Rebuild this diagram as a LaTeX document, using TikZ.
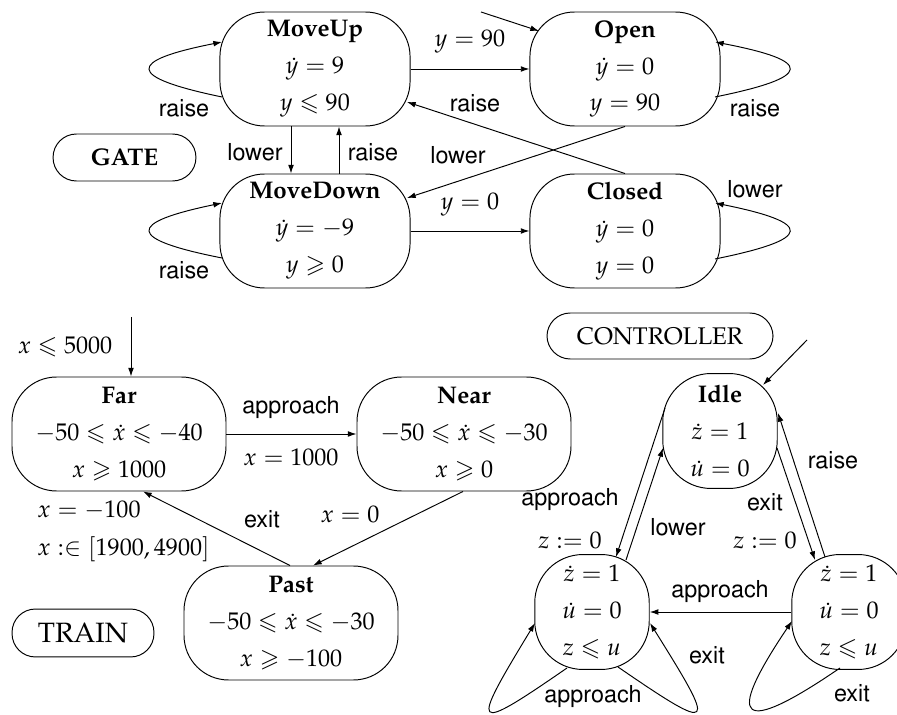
\documentclass[tikz,border=0pt]{standalone}
\usepackage[T1]{fontenc}
\usepackage{mathpazo}
\usepackage{helvet}
\usepackage{amssymb}
\usetikzlibrary{arrows.meta,calc}
\begin{document}
\begin{tikzpicture}[x=0.415pt,y=-0.415pt,
  base/.style={draw, line width=0.4pt, align=center, inner sep=0pt, font=\fontsize{10}{15.3}\selectfont},
  gst/.style={base, rounded corners=18.5pt, minimum width=78.9pt, minimum height=47.3pt},
  tst/.style={base, rounded corners=18.5pt, minimum width=88.8pt, minimum height=47.3pt},
  cst/.style={base, rounded corners=20pt, minimum width=47.5pt, minimum height=47.7pt},
  tag/.style={draw, line width=0.4pt, inner sep=0pt, rounded corners=9.7pt, minimum width=59.3pt, minimum height=19.5pt, font=\fontsize{10}{12}\selectfont},
  lb/.style={inner sep=0pt, font=\fontsize{9.7}{11}\sffamily},
  ml/.style={inner sep=0pt, font=\fontsize{10}{12}\selectfont},
  arr/.style={draw, line width=0.4pt, -{Latex[length=3.6pt,width=2.4pt]}}
]
\useasboundingbox (0,0) rectangle (897,715);

% ---------------- GATE ----------------
\node[gst] (mu) at (315,69) {\textbf{MoveUp}\\$\dot y = 9$\\$y \leqslant 90$};
\node[gst] (op) at (625,69) {\textbf{Open}\\$\dot y = 0$\\$y = 90$};
\node[gst] (md) at (315,231) {\textbf{MoveDown}\\$\dot y = -9$\\$y \geqslant 0$};
\node[gst] (cl) at (625,231) {\textbf{Closed}\\$\dot y = 0$\\$y = 0$};
\node[tag] (gate) at (124.5,157.5) {\textbf{GATE}};

\coordinate (opin) at (481,12);
\draw[arr] (opin) -- ($(op.center)+(-86,-38)$);
\draw[arr] (mu.east) -- (op.west);
\draw[arr] ($(mu.south)+(-24,0)$) -- ($(md.north)+(-24,0)$);
\draw[arr] ($(md.north)+(24,0)$) -- ($(mu.south)+(24,0)$);
\draw[arr] (cl.north) -- ($(mu.center)+(92,33)$);
\draw[arr] (op.south) -- ($(md.center)+(92,-33)$);
\draw[arr] (md.east) -- (cl.west);
% self loops
\draw[arr] ($(op.center)+(90,28)$) .. controls ($(op.center)+(189,8)$) and ($(op.center)+(189,-8)$) .. ($(op.center)+(90,-27)$);
\draw[arr] ($(cl.center)+(90,28)$) .. controls ($(cl.center)+(189,8)$) and ($(cl.center)+(189,-8)$) .. ($(cl.center)+(90,-28)$);
\draw[arr] ($(mu.center)+(-93,28)$) .. controls ($(mu.center)+(-189,8)$) and ($(mu.center)+(-189,-8)$) .. ($(mu.center)+(-93,-27)$);
\draw[arr] ($(md.center)+(-93,27)$) .. controls ($(md.center)+(-189,8)$) and ($(md.center)+(-189,-8)$) .. ($(md.center)+(-93,-28)$);

\node[ml] (g1) at (470,42) {$y = 90$};
\node[lb] (g2) at (755,108) {raise};
\node[lb] (g3) at (184,108) {raise};
\node[lb] (g4) at (255,152) {lower};
\node[lb] (g5) at (373,152) {raise};
\node[lb] (g6) at (475,103) {raise};
\node[lb] (g7) at (458,155) {lower};
\node[ml] (g8) at (470,205) {$y = 0$};
\node[lb] (g9) at (755,189) {lower};
\node[lb] (g10) at (184,270) {raise};

% ---------------- TRAIN ----------------
\node[tst] (fa) at (119,434) {\textbf{Far}\\$-50 \leqslant \dot x \leqslant -40$\\$x \geqslant 1000$};
\node[tst] (ne) at (464,434) {\textbf{Near}\\$-50 \leqslant \dot x \leqslant -30$\\$x \geqslant 0$};
\node[tst] (pa) at (291,623) {\textbf{Past}\\$-50 \leqslant \dot x \leqslant -30$\\$x \geqslant -100$};
\node[tag, minimum width=58.9pt, minimum height=19.9pt, font=\fontsize{11.6}{13}\selectfont] (train) at (83,633) {TRAIN};

\coordinate (fain) at (131,317);
\draw[arr] (fain) -- ($(fa.north)+(12,0)$);
\draw[arr] (fa.east) -- (ne.west);
\draw[arr] ($(ne.south)+(-1,0)$) -- ($(pa.north)+(22,0)$);
\draw[arr] ($(pa.north)+(-1,0)$) -- ($(fa.south)+(24,0)$);

\node[ml] (t1) at (65,347) {$x \leqslant 5000$};
\node[lb] (t2) at (291,408) {approach};
\node[ml] (t3) at (291,457) {$x = 1000$};
\node[ml] (t4) at (350,514) {$x = 0$};
\node[lb] (t5) at (262,519) {exit};
\node[ml, anchor=base west] (t6) at (37,518) {$x = -100$};
\node[ml, anchor=base west] (t7) at (37,555) {$x :\in [1900, 4900]$};

% ---------------- CONTROLLER ----------------
\node[tag, minimum width=93.8pt, minimum height=19.1pt] (ctrl) at (660,336) {CONTROLLER};
\node[cst] (id) at (720,431) {\textbf{Idle}\\$\dot z = 1$\\$\dot u = 0$};
\node[cst] (lk) at (592,612) {$\dot z = 1$\\$\dot u = 0$\\$z \leqslant u$};
\node[cst] (rt) at (849,612) {$\dot z = 1$\\$\dot u = 0$\\$z \leqslant u$};

\coordinate (idin) at (807,340);
\draw[arr] (idin) -- ($(id.center)+(43,-46)$);
\draw[arr] ($(id.center)+(-55,-23)$) -- ($(lk.center)+(24,-55)$);
\draw[arr] ($(lk.center)+(34,-52)$) -- ($(id.center)+(-57,17)$);
\draw[arr] ($(id.center)+(57,17)$) -- ($(rt.center)+(-34,-52)$);
\draw[arr] ($(rt.center)+(-24,-55)$) -- ($(id.center)+(58,-18)$);
\draw[arr] (rt.west) -- (lk.east);
% self loops
\draw[arr] ($(lk.center)+(-25,56)$) .. controls ($(lk.center)+(-122,123)$) and ($(lk.center)+(-122,118)$) .. ($(lk.center)+(-57,11)$);
\draw[arr] ($(lk.center)+(26,55)$) .. controls ($(lk.center)+(125,123)$) and ($(lk.center)+(125,118)$) .. ($(lk.center)+(58,11)$);
\draw[arr] ($(rt.center)+(-9,56)$) .. controls ($(rt.center)+(-110,125)$) and ($(rt.center)+(-125,110)$) .. ($(rt.center)+(-57,9)$);

\node[lb] (c1) at (570,500) {approach};
\node[ml] (c2) at (570,540) {$z := 0$};
\node[lb] (c3) at (678,527) {lower};
\node[lb] (c4) at (765,502) {exit};
\node[ml] (c5) at (765,540) {$z := 0$};
\node[lb] (c6) at (833,460) {raise};
\node[lb] (c7) at (720,592) {approach};
\node[lb] (c8) at (593,697) {approach};
\node[lb] (c9) at (707,655) {exit};
\node[lb] (c10) at (852,693) {exit};
\end{tikzpicture}
\end{document}
